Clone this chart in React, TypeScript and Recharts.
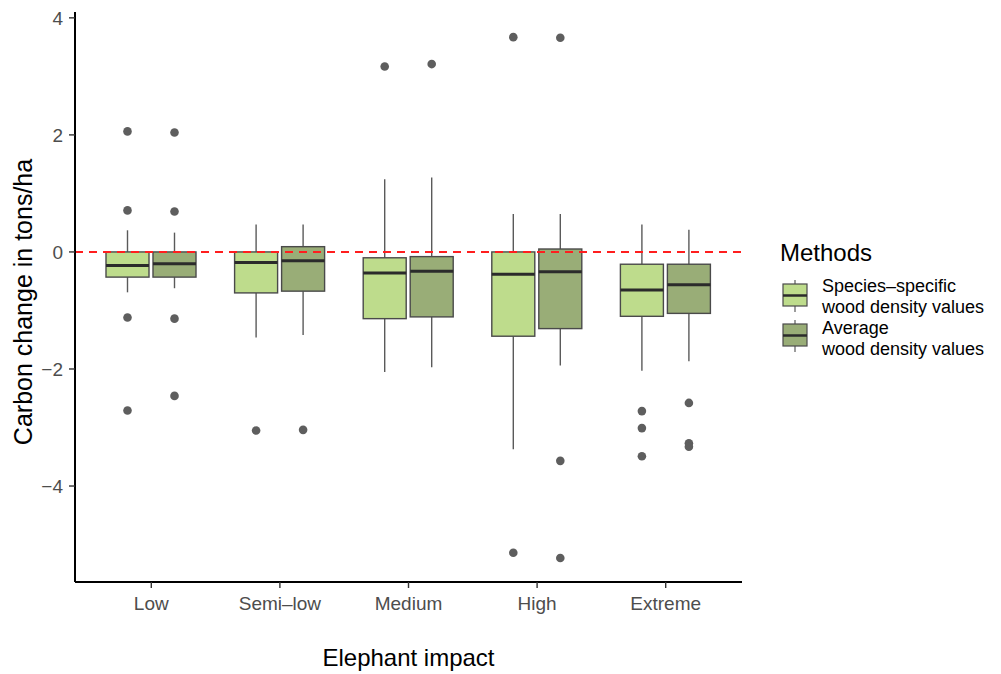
import React from 'react';
import {
  ComposedChart,
  Bar,
  XAxis,
  YAxis,
  ReferenceLine,
  Legend,
} from 'recharts';

const CATEGORIES = ['Low', 'Semi-low', 'Medium', 'High', 'Extreme'];

// Species-specific wood density values
const SPECIES_LO = [-0.69, -1.46, -2.05, -3.37, -2.03];
const SPECIES_Q1 = [-0.43, -0.7, -1.14, -1.44, -1.1];
const SPECIES_MED = [-0.23, -0.18, -0.36, -0.38, -0.65];
const SPECIES_Q3 = [0.0, 0.0, -0.1, 0.0, -0.21];
const SPECIES_HI = [0.37, 0.47, 1.24, 0.65, 0.47];
const SPECIES_OUT = [[2.06, 0.71, -1.12, -2.71], [-3.05], [3.17], [3.67, -5.14], [-2.72, -3.01, -3.49]];

// Average wood density values
const AVG_LO = [-0.62, -1.42, -1.97, -1.94, -1.87];
const AVG_Q1 = [-0.43, -0.67, -1.11, -1.31, -1.05];
const AVG_MED = [-0.2, -0.15, -0.33, -0.34, -0.56];
const AVG_Q3 = [0.0, 0.09, -0.08, 0.05, -0.21];
const AVG_HI = [0.33, 0.47, 1.27, 0.65, 0.38];
const AVG_OUT = [[2.04, 0.69, -1.14, -2.46], [-3.04], [3.21], [3.66, -3.57, -5.23], [-2.58, -3.27, -3.33]];

const Y_TICKS = [-4, -2, 0, 2, 4];

const SPECIES_FILL = '#bedc8c';
const AVG_FILL = '#99ad77';
const FONT = '"Liberation Sans", Arial, Helvetica, sans-serif';

const LEGEND_ITEMS = [
  { lines: ['Species\u2013specific', 'wood density values'], fill: SPECIES_FILL },
  { lines: ['Average', 'wood density values'], fill: AVG_FILL },
];

const data = CATEGORIES.map((cat, i) => ({
  cat,
  s: { lo: SPECIES_LO[i], q1: SPECIES_Q1[i], med: SPECIES_MED[i], q3: SPECIES_Q3[i], hi: SPECIES_HI[i], out: SPECIES_OUT[i] },
  a: { lo: AVG_LO[i], q1: AVG_Q1[i], med: AVG_MED[i], q3: AVG_Q3[i], hi: AVG_HI[i], out: AVG_OUT[i] },
}));

type Stats = { lo: number; q1: number; med: number; q3: number; hi: number; out: number[] };

// bar covers the whisker range; the rest is placed with the same linear scale
const makeBoxShape = (key: 's' | 'a', fill: string) => (props: any) => {
  const { x, y, width, height, payload } = props;
  const st: Stats = payload[key];
  const top = Math.min(y, y + height);
  const h = Math.abs(height);
  const k = h / (st.hi - st.lo);
  const yOf = (v: number) => top + (st.hi - v) * k;
  const cx = x + width / 2;
  return (
    <g>
      <line x1={cx} x2={cx} y1={yOf(st.hi)} y2={yOf(st.q3)} stroke="#5a5a5a" strokeWidth={1.4} />
      <line x1={cx} x2={cx} y1={yOf(st.q1)} y2={yOf(st.lo)} stroke="#5a5a5a" strokeWidth={1.4} />
      <rect
        x={x}
        y={yOf(st.q3)}
        width={width}
        height={yOf(st.q1) - yOf(st.q3)}
        fill={fill}
        stroke="#4a4a4a"
        strokeWidth={1.4}
      />
      <line x1={x} x2={x + width} y1={yOf(st.med)} y2={yOf(st.med)} stroke="#2b2b2b" strokeWidth={3} />
      {st.out.map((o, i) => (
        <circle key={i} cx={cx} cy={yOf(o)} r={4.3} fill="#5e5e5e" />
      ))}
    </g>
  );
};

const fmt = (v: number) => (v < 0 ? '\u2212' + Math.abs(v) : String(v));

const LegendContent = () => (
  <svg width={261} height={140} style={{ fontFamily: FONT }}>
    <text x={40} y={31} fontSize={24} fill="#000">Methods</text>
    {LEGEND_ITEMS.map((it, i) => {
      const oy = i * 40;
      const ty = i * 42;
      return (
        <g key={i}>
          <line x1={55} x2={55} y1={50 + oy} y2={82 + oy} stroke="#5a5a5a" strokeWidth={1.2} />
          <rect x={43} y={54 + oy} width={24} height={22} fill={it.fill} stroke="#4a4a4a" strokeWidth={1.2} />
          <line x1={43} x2={67} y1={65.5 + oy} y2={65.5 + oy} stroke="#2b2b2b" strokeWidth={2.5} />
          <text x={82} y={62 + ty} fontSize={18} fill="#000">{it.lines[0]}</text>
          <text x={82} y={83 + ty} fontSize={18} fill="#000">{it.lines[1]}</text>
        </g>
      );
    })}
  </svg>
);

export default function App() {
  return (
    <div style={{ width: 1001, height: 674, position: 'relative', fontFamily: FONT }}>
      <style>{'body { margin: 0; background: #fff; }'}</style>
      <ComposedChart
        width={1001}
        height={674}
        data={data}
        margin={{ top: 12, right: 259, bottom: 0, left: 0 }}
        barGap={4}
        barSize={43}
      >
        <XAxis
          dataKey="cat"
          height={92}
          padding={{ left: 12, right: 12 }}
          tickFormatter={(v: string) => v.replace('-', '\u2013')}
          axisLine={{ stroke: '#000', strokeWidth: 2 }}
          tickLine={{ stroke: '#333', strokeWidth: 1.4 }}
          tickSize={6}
          tickMargin={9}
          tick={{ fill: '#4d4d4d', fontSize: 19, fontFamily: FONT }}
          label={({ viewBox }: any) => (
            <text
              x={viewBox.x + viewBox.width / 2}
              y={viewBox.y + viewBox.height - 8}
              textAnchor="middle"
              fontSize={24}
              fontFamily={FONT}
              fill="#000"
            >
              Elephant impact
            </text>
          )}
        />
        <YAxis
          width={75}
          type="number"
          domain={[-5.64, 4.1]}
          allowDataOverflow
          ticks={Y_TICKS}
          tickFormatter={fmt}
          axisLine={{ stroke: '#000', strokeWidth: 2 }}
          tickLine={{ stroke: '#333', strokeWidth: 1.4 }}
          tickSize={6}
          tickMargin={6}
          tick={{ fill: '#4d4d4d', fontSize: 19, fontFamily: FONT }}
          label={({ viewBox }: any) => {
            const cx = viewBox.x + 32;
            const cy = viewBox.y + viewBox.height / 2 + 5;
            return (
              <text
                x={cx}
                y={cy}
                transform={`rotate(-90, ${cx}, ${cy})`}
                textAnchor="middle"
                fontSize={25}
                fontFamily={FONT}
                fill="#000"
              >
                Carbon change in tons/ha
              </text>
            );
          }}
        />
        <Bar
          name="Species-specific wood density values"
          dataKey={(d: any) => [d.s.lo, d.s.hi]}
          fill={SPECIES_FILL}
          shape={makeBoxShape('s', SPECIES_FILL)}
          isAnimationActive={false}
        />
        <Bar
          name="Average wood density values"
          dataKey={(d: any) => [d.a.lo, d.a.hi]}
          fill={AVG_FILL}
          shape={makeBoxShape('a', AVG_FILL)}
          isAnimationActive={false}
        />
        <ReferenceLine y={0} stroke="#ff1e1e" strokeWidth={2} strokeDasharray="8 6" />
        <Legend
          layout="vertical"
          align="center"
          verticalAlign="middle"
          content={<LegendContent />}
          wrapperStyle={{ left: 740, top: 230, width: 261, height: 140 }}
        />
      </ComposedChart>
    </div>
  );
}
